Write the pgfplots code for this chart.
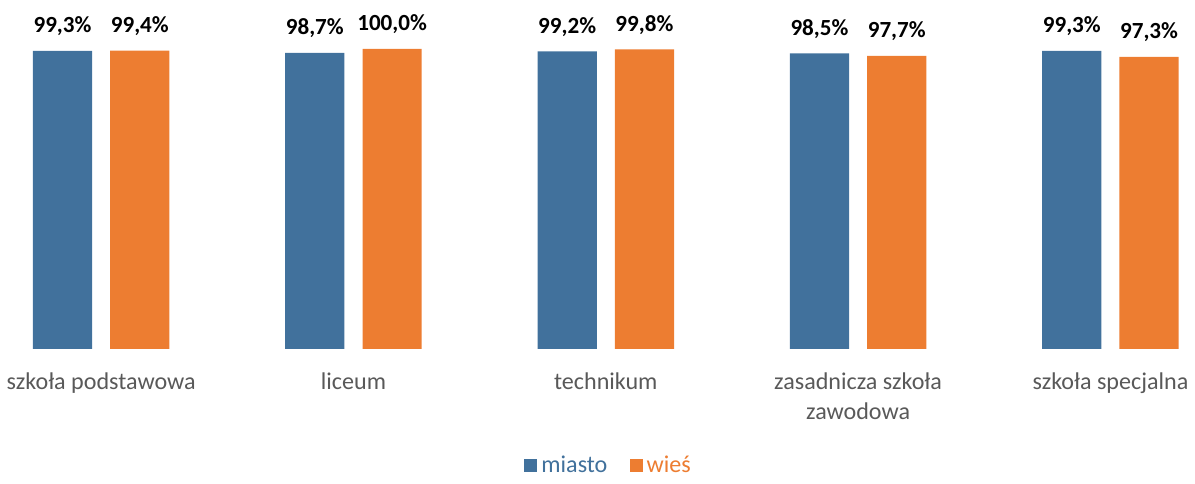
\documentclass[border=0pt]{standalone}
\usepackage{fontspec}
\setmainfont{Carlito}
\usepackage{pgfplots}
\pgfplotsset{compat=1.18}
\definecolor{miasto}{HTML}{41719C}
\definecolor{wies}{HTML}{ED7D31}
\definecolor{labgray}{HTML}{595959}

\begin{document}
\begin{tikzpicture}
\begin{axis}[
    scale only axis,
    width=582pt, height=149.5pt,
    xmin=-0.3, xmax=4.33,
    ymin=0, ymax=100,
    ybar=9pt,
    bar width=29.5pt,
    axis line style={draw=none},
    tick style={draw=none},
    clip=false,
    xtick={0,1,2,3,4},
    xticklabels={szkoła podstawowa, liceum, technikum, {zasadnicza szkoła\\zawodowa}, szkoła specjalna},
    xticklabel style={align=center, font=\fontsize{12}{15}\selectfont, text=labgray, yshift=-4pt},
    ytick=\empty,
    every node near coord/.append style={font=\fontsize{11.5}{13}\selectfont\bfseries, text=black, yshift=4pt},
    nodes near coords={\pgfmathprintnumber[fixed, fixed zerofill, precision=1, use comma, assume math mode=true]{\pgfplotspointmeta}\%},
    legend style={at={(axis description cs:0.5,0)}, anchor=center, yshift=-58pt,
        draw=none, legend columns=2, font=\fontsize{12}{14}\selectfont,
        /tikz/every even column/.append style={column sep=9pt}},
    legend image code/.code={\fill[#1] (0pt,-3.2pt) rectangle (6.5pt,3.3pt);},
]
\addplot[fill=miasto, draw=none] coordinates {
    (0,99.3) (1,98.7) (2,99.2) (3,98.5) (4,99.3)
};
\addlegendentry{\textcolor{miasto}{miasto}}
\addplot[fill=wies, draw=none] coordinates {
    (0,99.4) (1,100.0) (2,99.8) (3,97.7) (4,97.3)
};
\addlegendentry{\textcolor{wies}{wieś}}
\end{axis}
\path ([yshift=4pt]current bounding box.north);
\end{tikzpicture}
\end{document}
